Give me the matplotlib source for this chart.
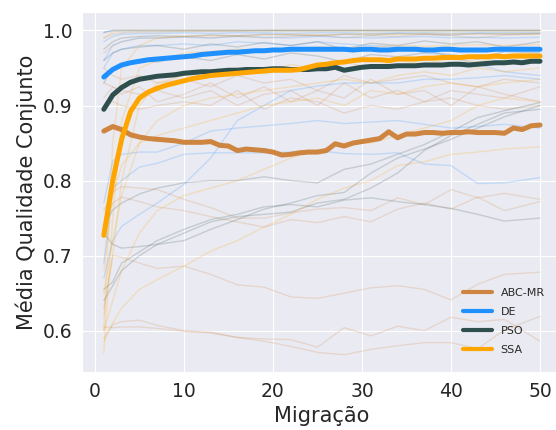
import numpy as np
import matplotlib
matplotlib.use("Agg")
import matplotlib.pyplot as plt
import seaborn as sns

# migration steps for the mean curves
migracao = np.arange(1, 51)

abc_mr = [0.866, 0.872, 0.868, 0.861, 0.858, 0.856, 0.855, 0.854, 0.853, 0.851,
          0.851, 0.851, 0.852, 0.847, 0.846, 0.840, 0.842, 0.841, 0.840, 0.838,
          0.834, 0.835, 0.837, 0.838, 0.838, 0.840, 0.849, 0.846, 0.850, 0.852,
          0.854, 0.856, 0.865, 0.857, 0.862, 0.862, 0.864, 0.864, 0.863, 0.864,
          0.864, 0.865, 0.864, 0.864, 0.864, 0.863, 0.870, 0.868, 0.873, 0.874]
de = [0.938, 0.948, 0.954, 0.957, 0.959, 0.961, 0.962, 0.963, 0.964, 0.965,
      0.966, 0.968, 0.969, 0.970, 0.971, 0.971, 0.972, 0.973, 0.973, 0.974,
      0.974, 0.975, 0.975, 0.975, 0.975, 0.975, 0.975, 0.975, 0.974, 0.975,
      0.975, 0.974, 0.974, 0.975, 0.975, 0.975, 0.974, 0.974, 0.975, 0.975,
      0.974, 0.974, 0.974, 0.974, 0.975, 0.975, 0.975, 0.975, 0.975, 0.975]
pso = [0.895, 0.914, 0.924, 0.931, 0.935, 0.937, 0.939, 0.940, 0.941, 0.943,
       0.944, 0.945, 0.945, 0.946, 0.947, 0.947, 0.948, 0.948, 0.948, 0.949,
       0.949, 0.948, 0.948, 0.948, 0.949, 0.949, 0.951, 0.947, 0.949, 0.951,
       0.952, 0.952, 0.952, 0.953, 0.953, 0.953, 0.954, 0.954, 0.954, 0.955,
       0.955, 0.954, 0.955, 0.956, 0.957, 0.957, 0.958, 0.957, 0.959, 0.959]
ssa = [0.727, 0.800, 0.855, 0.892, 0.910, 0.918, 0.923, 0.927, 0.930, 0.933,
       0.936, 0.938, 0.940, 0.941, 0.942, 0.943, 0.944, 0.945, 0.946, 0.947,
       0.947, 0.947, 0.948, 0.951, 0.954, 0.955, 0.957, 0.958, 0.960, 0.961,
       0.961, 0.961, 0.960, 0.962, 0.962, 0.962, 0.963, 0.963, 0.964, 0.964,
       0.964, 0.965, 0.965, 0.965, 0.966, 0.965, 0.966, 0.966, 0.966, 0.966]

# individual runs, read at fewer migration steps
x_run = [1, 2, 3, 5, 7, 10, 13, 16, 19, 22, 25, 28, 31, 34, 37, 40, 43, 46, 50]

abc_runs = [
    [0.990, 0.995, 0.997, 0.998, 0.998, 0.999, 0.999, 0.999, 1.0, 1.0, 1.0, 1.0, 1.0, 1.0, 1.0, 1.0, 1.0, 1.0, 1.0],
    [0.970, 0.980, 0.985, 0.990, 0.990, 0.992, 0.990, 0.993, 0.990, 0.992, 0.994, 0.990, 0.993, 0.992, 0.995, 0.993, 0.990, 0.994, 0.995],
    [0.950, 0.940, 0.935, 0.940, 0.930, 0.935, 0.925, 0.940, 0.930, 0.935, 0.920, 0.940, 0.930, 0.935, 0.940, 0.930, 0.925, 0.935, 0.930],
    [0.930, 0.925, 0.920, 0.915, 0.920, 0.910, 0.920, 0.900, 0.915, 0.920, 0.900, 0.930, 0.910, 0.920, 0.905, 0.920, 0.915, 0.910, 0.925],
    [0.900, 0.905, 0.900, 0.895, 0.900, 0.905, 0.900, 0.920, 0.895, 0.910, 0.905, 0.890, 0.900, 0.895, 0.905, 0.910, 0.900, 0.895, 0.900],
    [0.910, 0.925, 0.915, 0.925, 0.905, 0.915, 0.930, 0.910, 0.925, 0.905, 0.920, 0.910, 0.935, 0.915, 0.920, 0.900, 0.925, 0.915, 0.905],
    [0.760, 0.785, 0.792, 0.790, 0.788, 0.775, 0.764, 0.750, 0.750, 0.757, 0.762, 0.764, 0.760, 0.777, 0.768, 0.788, 0.777, 0.783, 0.775],
    [0.740, 0.770, 0.778, 0.772, 0.765, 0.760, 0.752, 0.745, 0.738, 0.748, 0.744, 0.752, 0.745, 0.762, 0.770, 0.762, 0.778, 0.760, 0.772],
    [0.630, 0.700, 0.698, 0.690, 0.683, 0.686, 0.675, 0.661, 0.658, 0.645, 0.643, 0.650, 0.657, 0.660, 0.655, 0.641, 0.662, 0.675, 0.678],
    [0.590, 0.608, 0.612, 0.614, 0.607, 0.600, 0.598, 0.591, 0.589, 0.588, 0.578, 0.604, 0.593, 0.606, 0.600, 0.618, 0.612, 0.615, 0.586],
    [0.605, 0.604, 0.605, 0.605, 0.603, 0.599, 0.597, 0.591, 0.586, 0.579, 0.571, 0.568, 0.575, 0.580, 0.584, 0.584, 0.576, 0.601, 0.619],
]
de_runs = [
    [0.998, 1.0, 1.0, 1.0, 1.0, 1.0, 1.0, 1.0, 1.0, 1.0, 1.0, 1.0, 1.0, 1.0, 1.0, 1.0, 1.0, 1.0, 1.0],
    [0.985, 0.992, 0.995, 0.996, 0.996, 0.997, 0.996, 0.997, 0.997, 0.996, 0.997, 0.997, 0.996, 0.997, 0.997, 0.996, 0.997, 0.997, 0.997],
    [0.960, 0.980, 0.985, 0.990, 0.990, 0.991, 0.990, 0.992, 0.991, 0.990, 0.992, 0.991, 0.990, 0.991, 0.992, 0.990, 0.991, 0.990, 0.991],
    [0.950, 0.970, 0.975, 0.980, 0.980, 0.982, 0.980, 0.985, 0.983, 0.980, 0.985, 0.982, 0.980, 0.978, 0.975, 0.965, 0.955, 0.945, 0.940],
    [0.670, 0.720, 0.739, 0.755, 0.770, 0.795, 0.830, 0.880, 0.900, 0.920, 0.926, 0.930, 0.930, 0.930, 0.935, 0.935, 0.937, 0.940, 0.935],
    [0.690, 0.790, 0.800, 0.818, 0.823, 0.835, 0.837, 0.837, 0.837, 0.838, 0.840, 0.836, 0.835, 0.837, 0.822, 0.820, 0.796, 0.797, 0.804],
    [0.770, 0.826, 0.835, 0.838, 0.838, 0.850, 0.866, 0.870, 0.873, 0.876, 0.880, 0.876, 0.878, 0.880, 0.875, 0.870, 0.872, 0.875, 0.870],
]
pso_runs = [
    [0.997, 1.0, 1.0, 1.0, 1.0, 1.0, 1.0, 1.0, 1.0, 1.0, 1.0, 1.0, 1.0, 1.0, 1.0, 1.0, 1.0, 1.0, 1.0],
    [0.975, 0.985, 0.990, 0.992, 0.993, 0.992, 0.994, 0.993, 0.995, 0.994, 0.993, 0.995, 0.994, 0.996, 0.995, 0.994, 0.996, 0.995, 0.996],
    [0.960, 0.970, 0.975, 0.978, 0.980, 0.975, 0.982, 0.978, 0.984, 0.980, 0.985, 0.975, 0.983, 0.980, 0.986, 0.982, 0.985, 0.978, 0.985],
    [0.930, 0.950, 0.955, 0.960, 0.958, 0.965, 0.960, 0.968, 0.962, 0.970, 0.966, 0.958, 0.968, 0.965, 0.970, 0.968, 0.962, 0.972, 0.970],
    [0.740, 0.761, 0.770, 0.782, 0.790, 0.797, 0.800, 0.800, 0.805, 0.800, 0.797, 0.815, 0.822, 0.835, 0.848, 0.865, 0.884, 0.893, 0.904],
    [0.730, 0.715, 0.710, 0.712, 0.715, 0.720, 0.735, 0.748, 0.762, 0.770, 0.780, 0.784, 0.810, 0.830, 0.842, 0.855, 0.870, 0.885, 0.900],
    [0.640, 0.660, 0.680, 0.700, 0.715, 0.730, 0.745, 0.752, 0.755, 0.758, 0.770, 0.775, 0.790, 0.810, 0.840, 0.860, 0.875, 0.890, 0.895],
    [0.655, 0.665, 0.690, 0.705, 0.720, 0.735, 0.748, 0.755, 0.765, 0.768, 0.765, 0.774, 0.777, 0.772, 0.768, 0.763, 0.755, 0.746, 0.750],
]
ssa_runs = [
    [0.990, 0.998, 1.0, 1.0, 1.0, 1.0, 1.0, 1.0, 1.0, 1.0, 1.0, 1.0, 1.0, 1.0, 1.0, 1.0, 1.0, 1.0, 1.0],
    [0.600, 0.850, 0.950, 0.980, 0.990, 0.992, 0.993, 0.992, 0.994, 0.995, 0.994, 0.995, 0.996, 0.995, 0.996, 0.996, 0.995, 0.996, 0.996],
    [0.570, 0.750, 0.880, 0.950, 0.960, 0.970, 0.972, 0.975, 0.974, 0.976, 0.978, 0.977, 0.978, 0.980, 0.979, 0.980, 0.981, 0.980, 0.981],
    [0.620, 0.700, 0.800, 0.900, 0.930, 0.940, 0.945, 0.950, 0.942, 0.955, 0.948, 0.958, 0.950, 0.960, 0.955, 0.962, 0.958, 0.965, 0.960],
    [0.650, 0.720, 0.780, 0.850, 0.880, 0.900, 0.910, 0.915, 0.920, 0.925, 0.930, 0.935, 0.930, 0.940, 0.945, 0.940, 0.950, 0.945, 0.950],
    [0.585, 0.610, 0.630, 0.655, 0.668, 0.686, 0.706, 0.720, 0.738, 0.755, 0.775, 0.790, 0.800, 0.820, 0.825, 0.835, 0.838, 0.842, 0.845],
    [0.600, 0.640, 0.680, 0.730, 0.760, 0.780, 0.790, 0.800, 0.815, 0.830, 0.840, 0.850, 0.850, 0.860, 0.870, 0.880, 0.900, 0.910, 0.905],
    [0.680, 0.780, 0.820, 0.850, 0.860, 0.870, 0.880, 0.890, 0.900, 0.905, 0.910, 0.900, 0.920, 0.915, 0.925, 0.930, 0.925, 0.930, 0.935],
]

labels = ["ABC-MR", "DE", "PSO", "SSA"]
colors = ["peru", "dodgerblue", "darkslategray", "orange"]
means = [abc_mr, de, pso, ssa]
runs = [abc_runs, de_runs, pso_runs, ssa_runs]

sns.set_style("darkgrid")
fig = plt.figure(figsize=(5.56, 4.30), dpi=100)
ax = fig.add_axes([0.1475, 0.135, 0.863, 0.836])

for group, c in zip(runs, colors):
    for r in group:
        ax.plot(x_run, r, color=c, alpha=0.2, lw=1)

for y, c, lab in zip(means, colors, labels):
    ax.plot(migracao, y, color=c, lw=3.6, label=lab)

ax.set_xlim(-1.45, 52.45)
ax.set_ylim(0.545, 1.024)
ax.set_xticks([0, 10, 20, 30, 40, 50])
ax.set_yticks([0.6, 0.7, 0.8, 0.9, 1.0])
ax.tick_params(labelsize=13.5, colors=".15")
ax.set_xlabel("Migração", fontsize=15, color=".15")
ax.set_ylabel("Média Qualidade Conjunto", fontsize=15, color=".15")
leg = ax.legend(loc="lower right", fontsize=8, frameon=False, handlelength=2.6,
                labelspacing=0.8, bbox_to_anchor=(0.985, 0.02))
for h in leg.get_lines():
    h.set_linewidth(3)

fig.savefig("out.png", dpi=100)
